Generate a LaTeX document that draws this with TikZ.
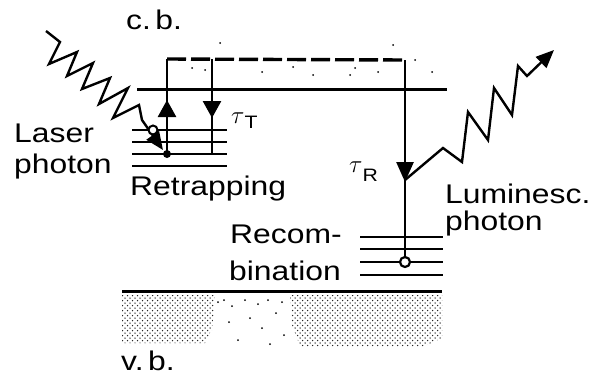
\documentclass[tikz,border=0pt]{standalone}
\usepackage{fontspec}
\setmainfont[FakeStretch=1.18]{Liberation Sans}
\usetikzlibrary{arrows.meta,patterns}
\pgfdeclarepatternformonly{sparsedots}{\pgfqpoint{-1pt}{-1pt}}{\pgfqpoint{6pt}{6pt}}{\pgfqpoint{5pt}{5pt}}{%
  \pgfpathcircle{\pgfqpoint{0pt}{0pt}}{0.75pt}%
  \pgfpathcircle{\pgfqpoint{2.5pt}{2.5pt}}{0.75pt}%
  \pgfusepath{fill}}
\begin{document}
\begin{tikzpicture}[x=1pt,y=-1pt,
  lbl/.style={anchor=base west,inner sep=0pt,font=\fontsize{27}{30}\selectfont},
  vline/.style={line width=2.6pt},
  band/.style={line width=3pt},
  level/.style={line width=2.8pt},
  dashline/.style={line width=3.4pt,dash pattern=on 19pt off 5pt},
  photon/.style={line width=2.4pt,line join=miter},
  head/.style={-{Triangle[length=17pt,width=18pt]}},
  stipple/.style={pattern=sparsedots,pattern color=black!85},
  speck/.style={fill=black,inner sep=0pt,minimum size=2pt,circle}]
\useasboundingbox (0,0) rectangle (607,378);
% named points
\coordinate (tL) at (167,59);
\coordinate (tR) at (405,60);
\coordinate (dotL) at (167,154);
\coordinate (rtT) at (212,59);
\coordinate (dR) at (212,154);
\coordinate (circR) at (405,262);
\coordinate (cbA) at (137,89);
\coordinate (cbB) at (447,89);
\coordinate (vbA) at (122,291);
\coordinate (vbB) at (442,291);
% valence band stipple
\fill[stipple] (122,295) -- (215,295) -- (212,330) -- (205,343) -- (122,343) -- cycle;
\fill[stipple] (290,295) -- (442,295) -- (442,338) -- (425,346) -- (300,346) -- (292,325) -- cycle;
\foreach \p in {(218,302),(224,300),(232,306),(245,300),(258,304),(268,300),(282,302),(250,318),(276,313),(229,322),(262,328),(284,335),(238,340),(270,344)}
  \node[speck] at \p {};
% bands
\draw[band] (cbA) -- (cbB);
\draw[band] (vbA) -- (vbB);
% sparse specks in conduction band
\foreach \p in {(192,68),(205,70),(262,72),(293,67),(313,75),(350,75),(355,68),(378,72),(415,60),(432,72),(393,45),(220,43)}
  \node[speck] at \p {};
% trap levels (left)
\foreach \yy in {130,142,154,166} \draw[level] (132,\yy) -- (227,\yy);
% recombination levels (right)
\foreach \yy in {237,249,262,275} \draw[level] (360,\yy) -- (443,\yy);
% transitions
\draw[vline] (dotL) -- (tL);
\draw[dashline] (tL) -- (tR);
\draw[vline] (rtT) -- (dR);
\draw[vline] (tR) -- (circR);
\coordinate (upS) at (167,125); \coordinate (upT) at (167,100);
\coordinate (dnS) at (212,95);  \coordinate (dnT) at (212,118);
\coordinate (rS) at (405,150);  \coordinate (rT) at (405,182);
\draw[vline,head] (upS) -- (upT);
\draw[vline,head] (dnS) -- (dnT);
\draw[vline,-{Triangle[length=20pt,width=17pt]}] (rS) -- (rT);
% laser photon
\coordinate (lpS) at (46,31);
\coordinate (lpE) at (163,150);
\draw[photon,-{Triangle[length=18pt,width=15pt]}] (lpS) -- (60,42) -- (49,64) -- (77,52) -- (67,76) -- (93,63) -- (82,89) -- (110,78) -- (99,104) -- (128,88) -- (113,118) -- (139,105) -- (142,120) -- (lpE);
% luminescence photon
\coordinate (luS) at (405,180);
\coordinate (luE) at (554,50);
\draw[photon,-{Triangle[length=18pt,width=15pt]}] (luS) -- (443,148) -- (462,162) -- (468,112) -- (488,140) -- (494,88) -- (512,115) -- (518,66) -- (527,76) -- (luE);
% dots and circles
\fill (dotL) circle[radius=4pt];
\coordinate (oL) at (153,130);
\draw[line width=2pt,fill=white] (oL) circle[radius=4.5pt];
\draw[line width=2.2pt,fill=white] (circR) circle[radius=5pt];
% labels
\node[lbl] (cb) at (126,29) {c.\,b.};
\node[lbl] (vb) at (121,370) {v.\,b.};
\node[lbl] (laser) at (14,142) {Laser};
\node[lbl] (photL) at (14,173) {photon};
\node[lbl] (retr) at (130,195) {Retrapping};
\node[lbl] (lum) at (445,203) {Luminesc.};
\node[lbl] (photR) at (445,230) {photon};
\node[lbl] (rec1) at (230,243) {Recom-};
\node[lbl] (rec2) at (229,280) {bination};
\node[lbl] (tauT) at (231,123) {$\tau$\raisebox{-5pt}{\fontsize{18}{20}\selectfont T}};
\node[lbl] (tauR) at (349,172) {$\tau$\raisebox{-9pt}{\fontsize{18}{20}\selectfont R}};
\end{tikzpicture}
\end{document}
